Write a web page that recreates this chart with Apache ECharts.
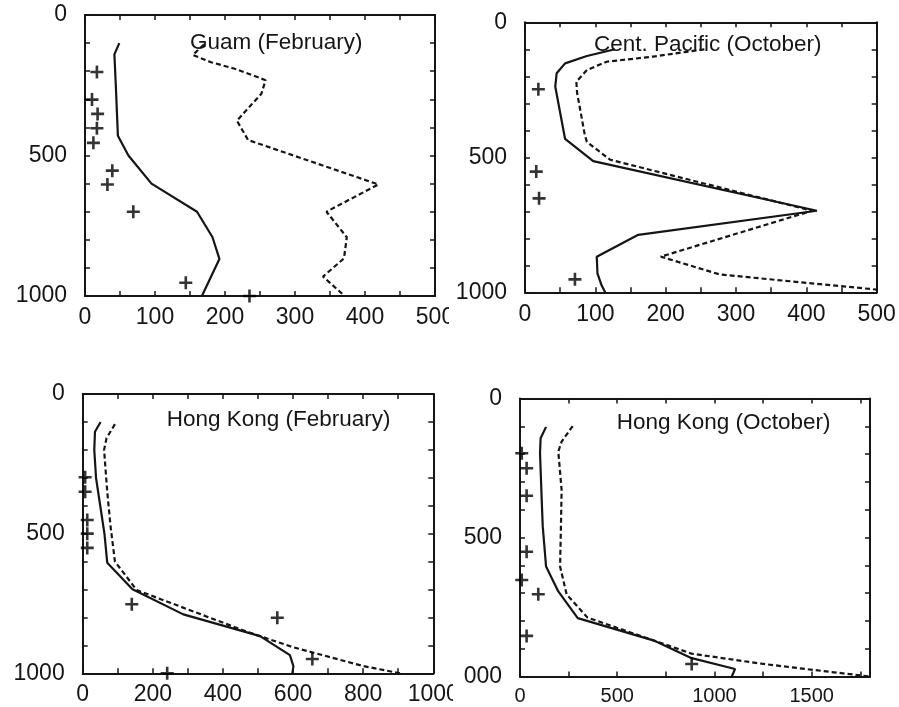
<!DOCTYPE html>
<html>
<head>
<meta charset="utf-8">
<script src="https://cdn.jsdelivr.net/npm/echarts@6/dist/echarts.min.js"></script>
<style>
  html, body { margin: 0; padding: 0; background: #fff; }
  body { width: 899px; height: 707px; position: relative; overflow: hidden; }
  .panel { position: absolute; overflow: hidden; }
</style>
</head>
<body>
<div id="p1" class="panel" style="left:0;top:0;width:449px;height:360px"></div>
<div id="p2" class="panel" style="left:450px;top:0;width:449px;height:360px"></div>
<div id="p3" class="panel" style="left:0;top:360px;width:453px;height:347px"></div>
<div id="p4" class="panel" style="left:463px;top:360px;width:436px;height:347px"></div>
<script>
// Profiles as [value, pressure] pairs; pressure axis runs 0 (top) to 1000 (bottom).

// Guam (February)
const guamSolid = [[49,100],[42,140],[44,250],[47,430],[62,500],[95,600],[160,700],[182,790],[192,868],[167,1000]];
const guamDashed = [[170,105],[154,142],[180,168],[215,192],[258,232],[252,280],[217,376],[233,445],[419,603],[345,700],[374,791],[370,866],[340,931],[371,1000]];
const guamObs = [[17,203],[10,301],[18,352],[17,403],[12,455],[39,554],[32,603],[69,700],[144,953],[235,1000]];

// Cent. Pacific (October)
const pacSolid = [[128,100],[88,125],[57,152],[45,189],[43,238],[57,432],[97,514],[415,698],[161,787],[102,868],[103,930],[109,975],[114,1000]];
const pacDashed = [[255,100],[182,127],[116,146],[88,177],[73,220],[74,260],[85,417],[88,443],[121,509],[408,698],[193,868],[277,934],[500,990]];
const pacObs = [[19,248],[16,553],[20,652],[71,952]];

// Hong Kong (February)
const hkFebSolid = [[51,100],[35,135],[33,200],[38,300],[50,400],[62,500],[70,604],[142,699],[287,789],[506,867],[591,935],[601,974],[598,1000]];
const hkFebDashed = [[92,108],[68,158],[61,200],[70,350],[80,480],[92,600],[154,702],[468,851],[601,907],[800,974],[905,1000]];
const hkFebObs = [[7,298],[7,350],[13,451],[13,500],[13,551],[140,753],[555,801],[655,949],[241,1000]];

// Hong Kong (October)
const hkOctSolid = [[134,102],[106,143],[103,196],[111,352],[117,460],[134,604],[197,694],[297,790],[694,872],[883,934],[1106,973],[1089,1000]];
const hkOctDashed = [[271,99],[214,155],[197,191],[214,329],[210,480],[206,604],[240,705],[347,788],[694,872],[883,918],[1242,954],[1517,977],[1800,1000]];
const hkOctObs = [[9,197],[34,251],[34,350],[34,551],[9,653],[94,704],[34,854],[883,955]];

// Tick labels shown on each axis
const pressureLabels = [0, 500, 1000];
const guamLabelsX = [0, 100, 200, 300, 400, 500];
const pacLabelsX = [0, 100, 200, 300, 400, 500];
const hkFebLabelsX = [0, 200, 400, 600, 800, 1000];
const hkOctLabelsX = [0, 500, 1000, 1500];

const FONT = '"Liberation Sans", Arial, Helvetica, sans-serif';
const INK = '#151515';
const PLUS = 'path://M4,0H6V4H10V6H6V10H4V6H0V4H4Z';

function build(id, cfg) {
  const chart = echarts.init(document.getElementById(id), null, { renderer: 'canvas' });
  const axisLine = { show: true, onZero: false, lineStyle: { color: INK, width: 2 } };
  const tick = { show: true, inside: true, length: 5, lineStyle: { color: INK, width: 1.5 } };
  const xBase = { type: 'value', min: 0, max: cfg.xMax, interval: cfg.xStep,
    splitLine: { show: false }, axisLine: axisLine, axisTick: tick };
  const yBase = { type: 'value', min: 0, max: 1000, interval: 100, inverse: true,
    splitLine: { show: false }, axisLine: axisLine, axisTick: tick };
  const line = (data, dashed) => ({
    type: 'line', data: data, showSymbol: false, symbol: 'none', clip: true,
    lineStyle: { color: INK, width: 2.2, type: dashed ? [5, 3] : 'solid' },
    z: 3, silent: true
  });
  chart.setOption({
    animation: false,
    backgroundColor: '#fff',
    grid: Object.assign({ containLabel: false, outerBoundsMode: 'none' }, cfg.grid),
    xAxis: [
      Object.assign({}, xBase, { position: 'bottom',
        axisLabel: { show: true, margin: cfg.xMargin, color: INK, fontFamily: FONT, fontSize: cfg.xFont,
          formatter: v => cfg.xLabels.indexOf(v) >= 0 ? String(v) : '' } }),
      Object.assign({}, xBase, { position: 'top', axisLabel: { show: false } })
    ],
    yAxis: [
      Object.assign({}, yBase, { position: 'left',
        axisLabel: { show: true, margin: 18, color: INK, fontFamily: FONT, fontSize: 23,
          formatter: v => pressureLabels.indexOf(v) >= 0 ? String(v) : '' } }),
      Object.assign({}, yBase, { position: 'right', axisLabel: { show: false } })
    ],
    graphic: [{
      type: 'text', x: cfg.titleX, y: cfg.titleY, z: 10,
      style: { text: cfg.title, fill: INK, font: '22.5px ' + FONT, align: 'left', verticalAlign: 'middle' }
    }],
    series: [
      line(cfg.solid, false),
      line(cfg.dashed, true),
      { type: 'scatter', data: cfg.obs, symbol: PLUS, symbolSize: 13,
        itemStyle: { color: '#000' }, z: 4, silent: true }
    ]
  });
}

build('p1', { title: 'Guam (February)', titleX: 190, titleY: 43,
  grid: { left: 85, top: 15, width: 350, height: 281 },
  xMax: 500, xStep: 50, xLabels: guamLabelsX, xFont: 23, xMargin: 10,
  solid: guamSolid, dashed: guamDashed, obs: guamObs });

build('p2', { title: 'Cent. Pacific (October)', titleX: 144, titleY: 45,
  grid: { left: 75, top: 22.3, width: 351.7, height: 270 },
  xMax: 500, xStep: 50, xLabels: pacLabelsX, xFont: 23, xMargin: 11,
  solid: pacSolid, dashed: pacDashed, obs: pacObs });

build('p3', { title: 'Hong Kong (February)', titleX: 166.7, titleY: 60,
  grid: { left: 82.7, top: 34, width: 350.6, height: 279.3 },
  xMax: 1000, xStep: 100, xLabels: hkFebLabelsX, xFont: 23, xMargin: 10,
  solid: hkFebSolid, dashed: hkFebDashed, obs: hkFebObs });

build('p4', { title: 'Hong Kong (October)', titleX: 153.7, titleY: 62.7,
  grid: { left: 57, top: 38.5, width: 350, height: 278 },
  xMax: 1800, xStep: 250, xLabels: hkOctLabelsX, xFont: 20, xMargin: 10,
  solid: hkOctSolid, dashed: hkOctDashed, obs: hkOctObs });
</script>
</body>
</html>
